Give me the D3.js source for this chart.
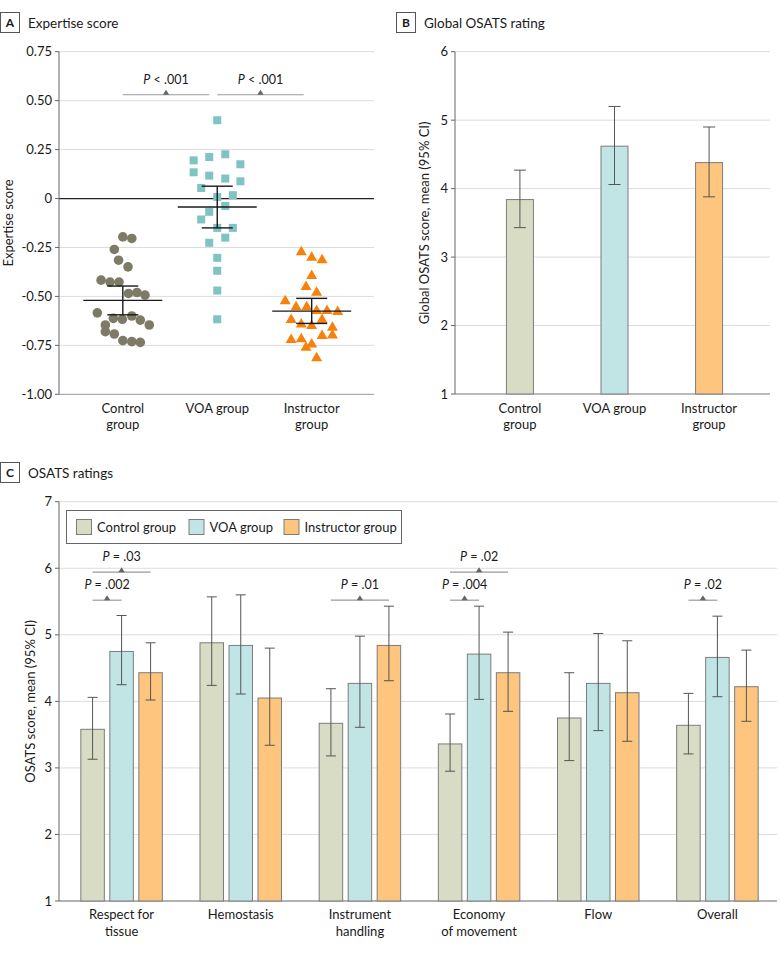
<!DOCTYPE html>
<html>
<head>
<meta charset="utf-8">
<script src="https://cdn.jsdelivr.net/npm/d3@7"></script>
<style>
  html, body { margin: 0; padding: 0; background: #fff; }
  svg { display: block; font-family: Lato, "Open Sans", sans-serif; }
</style>
</head>
<body>
<div id="chart"></div>
<script>
// ---------------- DATA ----------------
const groups = ["Control group", "VOA group", "Instructor group"];
const groupLabels = [["Control", "group"], ["VOA group"], ["Instructor", "group"]];

// Panel A: expertise scores per participant (jitter = horizontal offset as fraction of half group step)
const controlScores = [-0.196, -0.204, -0.26, -0.315, -0.349, -0.417, -0.427, -0.427, -0.485, -0.48, -0.493,
  -0.584, -0.612, -0.617, -0.60, -0.621, -0.646, -0.646, -0.68, -0.692, -0.726, -0.731, -0.735];
const controlJitter = [0, 0.19, -0.18, -0.09, 0.11, -0.46, -0.27, -0.08, 0.12, 0.30, 0.47,
  -0.54, -0.20, -0.01, 0.19, 0.37, 0.56, -0.37, -0.37, -0.18, 0, 0.19, 0.37];
const voaScores = [0.40, 0.195, 0.212, 0.226, 0.175, 0.134, 0.117, 0.102, 0.088, 0.054, 0.008, 0.017,
  -0.038, -0.068, -0.107, -0.15, -0.15, -0.20, -0.226, -0.303, -0.369, -0.47, -0.617];
const voaJitter = [0, -0.50, -0.17, 0.17, 0.49, -0.50, -0.17, 0.17, 0.49, -0.34, 0, 0.33,
  0.17, -0.17, -0.34, 0, 0.33, 0.17, -0.17, 0, 0, 0, 0];
const instructorScores = [-0.269, -0.298, -0.31, -0.391, -0.447, -0.476, -0.519, -0.55, -0.55, -0.57, -0.57, -0.575,
  -0.616, -0.638, -0.646, -0.616, -0.655, -0.694, -0.718, -0.714, -0.697, -0.74, -0.757, -0.811];
const instructorJitter = [-0.22, 0, 0.22, 0, -0.12, 0.105, -0.56, -0.33, -0.105, 0.105, 0.325, 0.55,
  -0.435, -0.22, 0, 0.22, 0.44, 0.44, -0.435, -0.22, 0.22, 0, -0.12, 0.105];
const expertiseMean = [-0.52, -0.043, -0.575];
const expertiseLo = [-0.594, -0.15, -0.638];
const expertiseHi = [-0.447, 0.063, -0.51];
const expertiseTicks = [0.75, 0.5, 0.25, 0, -0.25, -0.5, -0.75, -1];
const expertiseTickLabels = ["0.75", "0.50", "0.25", "0", "-0.25", "-0.50", "-0.75", "-1.00"];
const expertiseComparisons = [{ from: 0, to: 1, label: "< .001" }, { from: 1, to: 2, label: "< .001" }];

// Panel B: global OSATS
const globalMean = [3.84, 4.62, 4.38];
const globalLo = [3.43, 4.06, 3.88];
const globalHi = [4.27, 5.20, 4.90];
const globalTicks = [1, 2, 3, 4, 5, 6];

// Panel C: OSATS ratings
const skills = ["Respect for tissue", "Hemostasis", "Instrument handling", "Economy of movement", "Flow", "Overall"];
const skillLabels = [["Respect for", "tissue"], ["Hemostasis"], ["Instrument", "handling"], ["Economy", "of movement"], ["Flow"], ["Overall"]];
const controlOsats = [3.58, 4.88, 3.67, 3.36, 3.75, 3.64];
const controlLo = [3.13, 4.24, 3.18, 2.95, 3.11, 3.21];
const controlHi = [4.06, 5.57, 4.19, 3.81, 4.43, 4.12];
const voaOsats = [4.75, 4.84, 4.27, 4.71, 4.27, 4.66];
const voaLo = [4.25, 4.11, 3.61, 4.03, 3.56, 4.07];
const voaHi = [5.29, 5.60, 4.98, 5.43, 5.02, 5.28];
const instrOsats = [4.43, 4.05, 4.84, 4.43, 4.13, 4.22];
const instrLo = [4.02, 3.34, 4.31, 3.85, 3.40, 3.70];
const instrHi = [4.88, 4.80, 5.43, 5.04, 4.91, 4.77];
const osatsTicks = [1, 2, 3, 4, 5, 6, 7];
const osatsComparisons = [
  { skill: 0, from: 0, to: 1, label: "= .002", level: 0 },
  { skill: 0, from: 0, to: 2, label: "= .03", level: 1 },
  { skill: 2, from: 0, to: 2, label: "= .01", level: 0 },
  { skill: 3, from: 0, to: 1, label: "= .004", level: 0 },
  { skill: 3, from: 0, to: 2, label: "= .02", level: 1 },
  { skill: 5, from: 0, to: 1, label: "= .02", level: 0 }
];

// ---------------- STYLE ----------------
const fills = ["#d9dcc5", "#c1e5e4", "#fdc57e"];
const markColors = ["#7d7a66", "#7fc3c2", "#f7810c"];
const gridColor = "#dcdcdc";
const textColor = "#1a1a1a";

const svg = d3.select("#chart").append("svg").attr("width", 780).attr("height", 957);

function panelTitle(x, y, letter, title) {
  const g = svg.append("g");
  g.append("rect").attr("x", x + 0.5).attr("y", y + 0.5).attr("width", 19).attr("height", 20)
    .attr("fill", "#fff").attr("stroke", "#555").attr("stroke-width", 1);
  g.append("text").attr("x", x + 10).attr("y", y + 15).attr("text-anchor", "middle")
    .attr("font-weight", 700).attr("font-size", 12).attr("fill", textColor).text(letter);
  g.append("text").attr("x", x + 28).attr("y", y + 15.5).attr("font-size", 13.5).attr("fill", textColor).text(title);
}

function yAxis(scale, ticks, labels, x0, x1, opts) {
  const g = svg.append("g");
  ticks.forEach((t, i) => {
    const y = scale(t);
    if (!(opts.skip && opts.skip(t))) {
      g.append("line").attr("x1", x0).attr("x2", x1).attr("y1", y).attr("y2", y)
        .attr("stroke", gridColor).attr("stroke-width", 1);
    }
    g.append("line").attr("x1", x0 - 4).attr("x2", x0).attr("y1", y).attr("y2", y).attr("stroke", "#666");
    g.append("text").attr("x", x0 - 7).attr("y", y + 4.5).attr("text-anchor", "end")
      .attr("font-size", 13).attr("fill", textColor).text(labels[i]);
  });
  return g;
}

function pAnnot(cx, xa, xb, lineY, label, textDy) {
  const g = svg.append("g");
  g.append("line").attr("x1", xa).attr("x2", xb).attr("y1", lineY).attr("y2", lineY)
    .attr("stroke", "#9a9a9a").attr("stroke-width", 1.2);
  g.append("path").attr("d", `M${cx - 3.2},${lineY} L${cx + 3.2},${lineY} L${cx},${lineY - 5} Z`).attr("fill", "#666");
  const t = g.append("text").attr("x", cx).attr("y", lineY + textDy).attr("text-anchor", "middle")
    .attr("font-size", 12.5).attr("fill", textColor);
  t.append("tspan").attr("font-style", "italic").text("P");
  t.append("tspan").text(" " + label);
}

// ---------------- PANEL A ----------------
(function () {
  const L = 59, R = 374;
  panelTitle(0, 12, "A", "Expertise score");
  const y = d3.scaleLinear().domain([-1, 0.75]).range([394.3, 51.7]);
  const x = d3.scalePoint().domain(groups).range([L + 1.5, R]).padding(0.66);
  const half = x.step() / 2;

  yAxis(y, expertiseTicks, expertiseTickLabels, L, R, { skip: t => t === 0 || t === -1 });
  // zero line
  svg.append("line").attr("x1", L).attr("x2", R).attr("y1", y(0)).attr("y2", y(0)).attr("stroke", "#222").attr("stroke-width", 1.3);
  // axes
  svg.append("line").attr("x1", L).attr("x2", R).attr("y1", y(-1)).attr("y2", y(-1)).attr("stroke", "#999");
  svg.append("line").attr("x1", L).attr("x2", L).attr("y1", y(0.75)).attr("y2", y(-1)).attr("stroke", "#666");

  svg.append("text").attr("transform", `translate(12.5,${(y(0.75) + y(-1)) / 2}) rotate(-90)`)
    .attr("text-anchor", "middle").attr("font-size", 13).attr("fill", textColor).text("Expertise score");

  groupLabels.forEach((lines, i) => {
    const t = svg.append("text").attr("x", x(groups[i])).attr("y", 413).attr("text-anchor", "middle")
      .attr("font-size", 13).attr("fill", textColor);
    lines.forEach((l, j) => t.append("tspan").attr("x", x(groups[i])).attr("dy", j ? 16 : 0).text(l));
  });

  // points
  const gc = x(groups[0]), gv = x(groups[1]), gi = x(groups[2]);
  svg.append("g").selectAll("circle").data(controlScores).join("circle")
    .attr("cx", (d, i) => gc + controlJitter[i] * half).attr("cy", d => y(d)).attr("r", 4.8)
    .attr("fill", markColors[0]);
  svg.append("g").selectAll("rect").data(voaScores).join("rect")
    .attr("x", (d, i) => gv + voaJitter[i] * half - 4).attr("y", d => y(d) - 4)
    .attr("width", 8).attr("height", 8).attr("fill", markColors[1]);
  svg.append("g").selectAll("path").data(instructorScores).join("path")
    .attr("d", (d, i) => {
      const cx = gi + instructorJitter[i] * half, cy = y(d);
      return `M${cx},${cy - 5.5} L${cx + 5.5},${cy + 4} L${cx - 5.5},${cy + 4} Z`;
    })
    .attr("fill", markColors[2]);

  // mean and CI
  groups.forEach((g, i) => {
    const cx = x(g);
    const mg = svg.append("g").attr("stroke", "#1a1a1a").attr("stroke-width", 1.4);
    mg.append("line").attr("x1", cx - 39.5).attr("x2", cx + 39.5).attr("y1", y(expertiseMean[i])).attr("y2", y(expertiseMean[i]));
    mg.append("line").attr("x1", cx).attr("x2", cx).attr("y1", y(expertiseHi[i])).attr("y2", y(expertiseLo[i]));
    [expertiseHi[i], expertiseLo[i]].forEach(v =>
      mg.append("line").attr("x1", cx - 15.5).attr("x2", cx + 15.5).attr("y1", y(v)).attr("y2", y(v)));
  });

  // comparisons
  expertiseComparisons.forEach(c => {
    const xa = x(groups[c.from]), xb = x(groups[c.to]) - 8;
    pAnnot((xa + xb) / 2, xa, xb, y(0.53), c.label, -11);
  });
})();

// ---------------- PANEL B ----------------
(function () {
  const L = 455, R = 770;
  panelTitle(396, 12, "B", "Global OSATS rating");
  const y = d3.scaleLinear().domain([1, 6]).range([394, 51.7]);
  const x = d3.scalePoint().domain(groups).range([L + 2.5, R + 1.5]).padding(0.66);
  yAxis(y, globalTicks, globalTicks.map(String), L, R, { skip: t => t === 1 });
  svg.append("line").attr("x1", L).attr("x2", R).attr("y1", y(1)).attr("y2", y(1)).attr("stroke", "#777").attr("stroke-width", 1.2);
  svg.append("line").attr("x1", L).attr("x2", L).attr("y1", y(6)).attr("y2", y(1)).attr("stroke", "#666");

  svg.append("text").attr("transform", `translate(428.5,${(y(6) + y(1)) / 2}) rotate(-90)`)
    .attr("text-anchor", "middle").attr("font-size", 13).attr("fill", textColor).text("Global OSATS score, mean (95% CI)");

  const bw = 27;
  svg.append("g").selectAll("rect").data(globalMean).join("rect")
    .attr("x", (d, i) => x(groups[i]) - bw / 2).attr("y", d => y(d))
    .attr("width", bw).attr("height", d => y(1) - y(d))
    .attr("fill", (d, i) => fills[i]).attr("stroke", "#7c7c7c").attr("stroke-width", 1);

  groups.forEach((g, i) => {
    const cx = x(g);
    const eg = svg.append("g").attr("stroke", "#555").attr("stroke-width", 1);
    eg.append("line").attr("x1", cx).attr("x2", cx).attr("y1", y(globalHi[i])).attr("y2", y(globalLo[i]));
    [globalHi[i], globalLo[i]].forEach(v =>
      eg.append("line").attr("x1", cx - 6).attr("x2", cx + 6).attr("y1", y(v)).attr("y2", y(v)));
  });

  groupLabels.forEach((lines, i) => {
    const t = svg.append("text").attr("x", x(groups[i])).attr("y", 413).attr("text-anchor", "middle")
      .attr("font-size", 13).attr("fill", textColor);
    lines.forEach((l, j) => t.append("tspan").attr("x", x(groups[i])).attr("dy", j ? 16 : 0).text(l));
  });
})();

// ---------------- PANEL C ----------------
(function () {
  const L = 59, R = 777;
  panelTitle(0, 462, "C", "OSATS ratings");
  const y = d3.scaleLinear().domain([1, 7]).range([901, 501.7]);
  const x0 = d3.scaleBand().domain(skills).range([L + 3, R]).paddingInner(0).paddingOuter(0);
  const x1 = d3.scaleBand().domain(groups).range([-40.75, 40.75]).paddingInner(0.19).paddingOuter(0);
  yAxis(y, osatsTicks, osatsTicks.map(String), L, R, { skip: t => t === 1 });
  svg.append("line").attr("x1", L).attr("x2", R).attr("y1", y(1)).attr("y2", y(1)).attr("stroke", "#666").attr("stroke-width", 1.2);
  svg.append("line").attr("x1", L).attr("x2", L).attr("y1", y(7)).attr("y2", y(1)).attr("stroke", "#666");

  svg.append("text").attr("transform", `translate(34.5,${(y(7) + y(1)) / 2}) rotate(-90)`)
    .attr("text-anchor", "middle").attr("font-size", 13).attr("fill", textColor).text("OSATS score, mean (95% CI)");

  const series = [
    { m: controlOsats, lo: controlLo, hi: controlHi },
    { m: voaOsats, lo: voaLo, hi: voaHi },
    { m: instrOsats, lo: instrLo, hi: instrHi }
  ];
  const center = (s, g) => x0(skills[s]) + x0.bandwidth() / 2 + x1(groups[g]) + x1.bandwidth() / 2;

  series.forEach((se, gi) => {
    svg.append("g").selectAll("rect").data(se.m).join("rect")
      .attr("x", (d, si) => center(si, gi) - x1.bandwidth() / 2).attr("y", d => y(d))
      .attr("width", x1.bandwidth()).attr("height", d => y(1) - y(d))
      .attr("fill", fills[gi]).attr("stroke", "#7c7c7c").attr("stroke-width", 1);
  });
  series.forEach((se, gi) => {
    se.m.forEach((d, si) => {
      const cx = center(si, gi);
      const eg = svg.append("g").attr("stroke", "#555").attr("stroke-width", 1);
      eg.append("line").attr("x1", cx).attr("x2", cx).attr("y1", y(se.hi[si])).attr("y2", y(se.lo[si]));
      [se.hi[si], se.lo[si]].forEach(v =>
        eg.append("line").attr("x1", cx - 5).attr("x2", cx + 5).attr("y1", y(v)).attr("y2", y(v)));
    });
  });

  skillLabels.forEach((lines, i) => {
    const cx = x0(skills[i]) + x0.bandwidth() / 2;
    const t = svg.append("text").attr("x", cx).attr("y", 918.5).attr("text-anchor", "middle")
      .attr("font-size", 13).attr("fill", textColor);
    lines.forEach((l, j) => t.append("tspan").attr("x", cx).attr("dy", j ? 17 : 0).text(l));
  });

  // comparisons
  osatsComparisons.forEach(c => {
    const xa = center(c.skill, c.from), xb = center(c.skill, c.to);
    const lineY = y(5.52) - c.level * 28;
    pAnnot((xa + xb) / 2, xa, xb, lineY, c.label, -11.5);
  });

  // legend
  const lg = svg.append("g");
  lg.append("rect").attr("x", 66.5).attr("y", 510.5).attr("width", 335).attr("height", 33)
    .attr("fill", "#fff").attr("stroke", "#666").attr("stroke-width", 1);
  const legX = [76, 188.5, 283.5];
  groups.forEach((g, i) => {
    lg.append("rect").attr("x", legX[i] + 0.5).attr("y", 519.5).attr("width", 15).attr("height", 15)
      .attr("fill", fills[i]).attr("stroke", "#7c7c7c");
    lg.append("text").attr("x", legX[i] + 21).attr("y", 531.5).attr("font-size", 13).attr("fill", textColor).text(g);
  });
})();
</script>
</body>
</html>
